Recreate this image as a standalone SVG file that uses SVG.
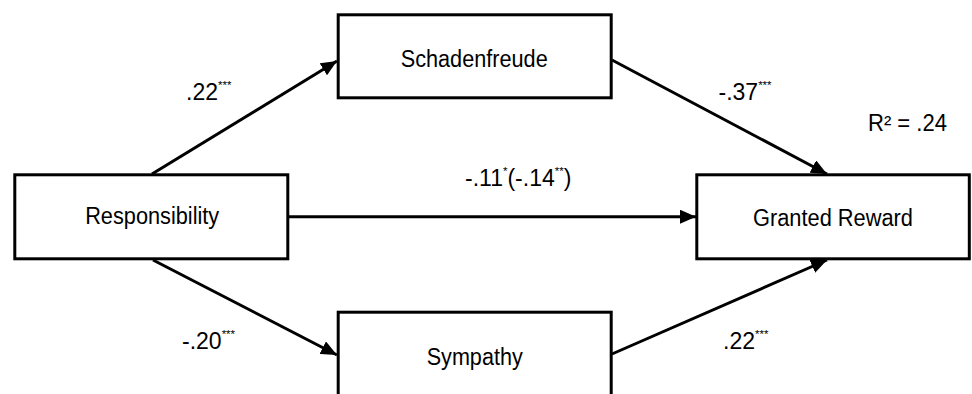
<svg xmlns="http://www.w3.org/2000/svg" width="972" height="394" viewBox="0 0 972 394">
<style>
.box{fill:#fff;stroke:#000;stroke-width:3}
.t{font-family:"Liberation Sans",Arial,sans-serif;font-size:23px;fill:#000;text-anchor:middle}
.l{font-family:"Liberation Sans",Arial,sans-serif;font-size:23px;fill:#000}
.s{font-size:11.5px}
.c{stroke:#000;stroke-width:3;fill:none;marker-end:url(#ah)}
</style>
<defs>
<marker id="ah" markerUnits="userSpaceOnUse" markerWidth="18" markerHeight="14" refX="16" refY="7" orient="auto">
<path d="M0,0 L16,7 L0,14 Z" fill="#000"/>
</marker>
</defs>
<rect width="972" height="394" fill="#fff"/>
<g id="connectors">
<line class="c" x1="152" y1="174" x2="337" y2="61"/>
<line class="c" x1="612" y1="60" x2="827" y2="174"/>
<line class="c" x1="289" y1="216.7" x2="696" y2="216.7"/>
<line class="c" x1="153" y1="260" x2="337" y2="355"/>
<line class="c" x1="612" y1="354" x2="827" y2="260"/>
</g>
<g id="schadenfreude">
<rect class="box" x="338.2" y="14.8" width="273" height="83"/>
<text class="t" x="474.2" y="66.5" textLength="147" lengthAdjust="spacingAndGlyphs">Schadenfreude</text>
</g>
<g id="responsibility">
<rect class="box" x="14.8" y="174.8" width="273" height="84"/>
<text class="t" x="152.2" y="224" textLength="134" lengthAdjust="spacingAndGlyphs">Responsibility</text>
</g>
<g id="granted-reward">
<rect class="box" x="696.8" y="174.8" width="272.5" height="84"/>
<text class="t" x="833" y="225.5" textLength="160" lengthAdjust="spacingAndGlyphs">Granted Reward</text>
</g>
<g id="sympathy">
<rect class="box" x="338.2" y="312.2" width="273" height="100"/>
<text class="t" x="474.7" y="364.5" textLength="96" lengthAdjust="spacingAndGlyphs">Sympathy</text>
</g>
<g id="labels">
<text class="l" x="186" y="100">.22<tspan class="s" dy="-11">***</tspan></text>
<text class="l" x="718.5" y="100">-.37<tspan class="s" dy="-11">***</tspan></text>
<text class="l" x="465" y="186">-.11<tspan class="s" dy="-11">*</tspan><tspan dy="11">(-.14</tspan><tspan class="s" dy="-11">**</tspan><tspan dy="11">)</tspan></text>
<text class="l" x="868" y="131" textLength="79" lengthAdjust="spacingAndGlyphs">R² = .24</text>
<text class="l" x="182" y="349">-.20<tspan class="s" dy="-11">***</tspan></text>
<text class="l" x="723" y="349">.22<tspan class="s" dy="-11">***</tspan></text>
</g>
</svg>
